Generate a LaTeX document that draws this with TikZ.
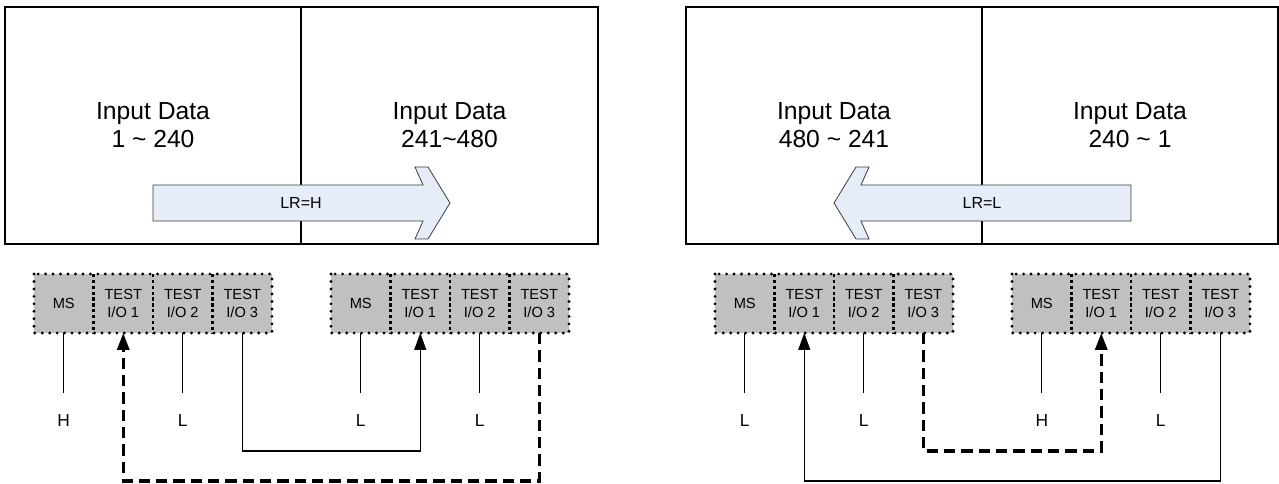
\documentclass[tikz,border=0pt]{standalone}
\usepackage{fontspec}
\setmainfont{Liberation Sans}
\usetikzlibrary{arrows.meta}
\definecolor{cellgray}{RGB}{192,192,192}
\definecolor{arrowfill}{RGB}{230,237,248}
\definecolor{arrowline}{RGB}{60,60,60}
\begin{document}
\begin{tikzpicture}[x=0.75pt,y=-0.75pt,
  half/.style={draw=black,line width=0.9pt,inner sep=0pt,outer sep=0pt,
    minimum height=177.75pt,align=center,font=\fontsize{18.5}{21}\selectfont},
  cell/.style={fill=cellgray,minimum width=44.625pt,minimum height=44.25pt,
    inner sep=0pt,outer sep=0pt,align=center,font=\fontsize{11}{13}\selectfont},
  outerdot/.style={line width=2.4pt,line cap=round,dash pattern=on 0pt off 5.6pt},
  divdot/.style={line width=1.6pt,dash pattern=on 2.4pt off 2pt},
  lbl/.style={inner sep=0pt,minimum height=42pt,font=\fontsize{13}{14}\selectfont},
  conn/.style={line width=0.8pt},
  dconn/.style={line width=2.4pt,dash pattern=on 8.5pt off 4.5pt},
  tipend/.style={-{Triangle[length=12.75pt,width=9pt]}},
  bigarrow/.style={draw=arrowline,fill=arrowfill,line width=0.6pt,line join=miter},
  arrlbl/.style={font=\fontsize{12}{14}\selectfont,inner sep=0pt}]
\useasboundingbox (0,0) rectangle (1279,484);

% upper boxes
\node[half,minimum width=222pt] (h1) at (153,125.5) {Input Data\\1 \textasciitilde{} 240};
\node[half,minimum width=222.75pt] (h2) at (449.5,125.5) {Input Data\\241\textasciitilde480};
\node[half,minimum width=222pt] (h3) at (834,125.5) {Input Data\\480 \textasciitilde{} 241};
\node[half,minimum width=222pt] (h4) at (1130,125.5) {Input Data\\240 \textasciitilde{} 1};

% big arrows
\draw[bigarrow] (153,185) -- (423,185) -- (415,167) -- (428,167) -- (450,203)
  -- (428,239) -- (415,239) -- (423,221) -- (153,221) -- cycle;
\node[arrlbl] (lrh) at (301,203) {LR=H};
\draw[bigarrow] (1131,185) -- (861,185) -- (869,167) -- (856,167) -- (834,203)
  -- (856,239) -- (869,239) -- (861,221) -- (1131,221) -- cycle;
\node[arrlbl] (lrl) at (982,203) {LR=L};

% cell groups
\foreach \g/\x/\ma/\mb in {g1/34/H/L, g2/331/L/L, g3/715/L/L, g4/1012/H/L}{
  \node[cell] (\g ms) at ({\x+29.75},303.5) {MS};
  \node[cell] (\g a) at ({\x+89.25},303.5) {TEST\\I/O 1};
  \node[cell] (\g b) at ({\x+148.75},303.5) {TEST\\I/O 2};
  \node[cell] (\g c) at ({\x+208.25},303.5) {TEST\\I/O 3};
  \draw[outerdot] (\g ms.north west) rectangle (\g c.south east);
  \draw[divdot] (\g ms.north east) -- (\g ms.south east);
  \draw[divdot] (\g a.north east) -- (\g a.south east);
  \draw[divdot] (\g b.north east) -- (\g b.south east);
  \node[lbl] (\g msl) at ({\x+29.75},421) {\ma};
  \node[lbl] (\g bl) at ({\x+148.75},421) {\mb};
  \draw[conn] (\g ms.south) -- (\g msl.north);
  \draw[conn] (\g b.south) -- (\g bl.north);
}

% levels for the routed connectors
\coordinate (lvA) at (640,451);
\coordinate (lvB) at (640,481);

% left diagram
\draw[conn,tipend] (g1c.south) -- (g1c.south |- lvA) -| (g2a.south);
\draw[dconn,tipend] (g2c.south) -- (g2c.south |- lvB) -| (g1a.south);
% right diagram
\draw[dconn,tipend] (g3c.south) -- (g3c.south |- lvA) -| (g4a.south);
\draw[conn,tipend] (g4c.south) -- (g4c.south |- lvB) -| (g3a.south);
\end{tikzpicture}
\end{document}
